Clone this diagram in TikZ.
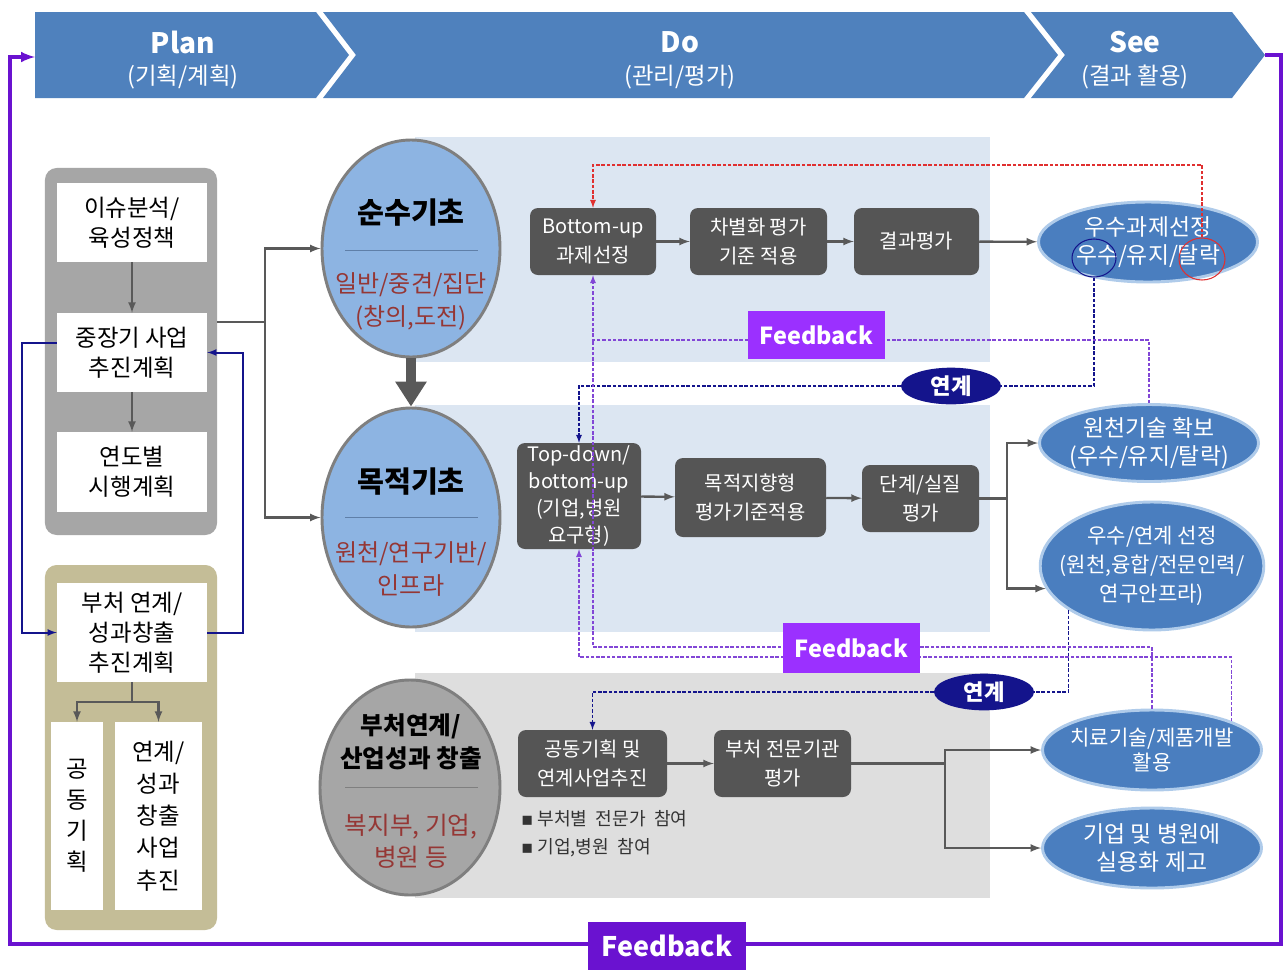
\documentclass[tikz,border=0pt]{standalone}
\usepackage{fontspec}
\setmainfont{Noto Sans CJK KR}
\newfontfamily\symfont{DejaVu Sans}
\usetikzlibrary{shapes.geometric,arrows.meta}
\definecolor{bannerblue}{HTML}{4F81BD}
\definecolor{panelgray}{HTML}{A6A6A6}
\definecolor{paneltan}{HTML}{C4BD97}
\definecolor{lightpanel}{HTML}{DCE6F2}
\definecolor{graypanel}{HTML}{DEDEDE}
\definecolor{boxgray}{HTML}{555555}
\definecolor{linegray}{HTML}{595959}
\definecolor{circleblue}{HTML}{8DB4E2}
\definecolor{blobedge}{HTML}{7F7F7F}
\definecolor{ruleblue}{HTML}{5F7FA8}
\definecolor{ellblue}{HTML}{4A7EBF}
\definecolor{ellglow}{HTML}{AFCBEA}
\definecolor{linknavy}{HTML}{14148C}
\definecolor{textred}{HTML}{953735}
\definecolor{fbviolet}{HTML}{9B30FF}
\definecolor{loopviolet}{HTML}{6A12D0}
\definecolor{dashviolet}{HTML}{8246D6}
\definecolor{dashred}{HTML}{E03030}

\begin{document}
\begin{tikzpicture}[>=latex, x=0.03cm, y=-0.03cm,
    bannertxt/.style={text=white, font=\fontsize{24}{28}\selectfont\bfseries},
    bannersub/.style={text=white, font=\fontsize{20}{24}\selectfont},
    leftbox/.style={fill=white, minimum width=4.5cm, inner sep=1pt, align=center, font=\fontsize{20}{25.5}\selectfont},
    conn/.style={draw=linegray, line width=2pt},
    navyline/.style={draw=linknavy, line width=1.7pt},
    blob/.style={ellipse, draw=blobedge, line width=2.5pt, inner sep=0pt},
    blobtitle/.style={font=\fontsize{25}{28}\selectfont\bfseries},
    blobsub/.style={text=textred, align=center, font=\fontsize{20.5}{27.5}\selectfont},
    blobrule/.style={draw=ruleblue, line width=0.8pt},
    panel/.style={minimum width=17.25cm, inner sep=0pt},
    darkbox/.style={fill=boxgray, rounded corners=0.24cm, text=white, align=center, inner sep=1pt, font=\fontsize{17}{24}\selectfont},
    result/.style={ellipse, fill=ellblue, draw=ellglow, line width=2.5pt, text=white, align=center, inner xsep=-0.4cm, inner ysep=-0.2cm, minimum width=6.57cm, minimum height=2.4cm, font=\fontsize{19.5}{24}\selectfont},
    tie/.style={ellipse, fill=linknavy, text=white, minimum width=3cm, minimum height=1.1cm, inner sep=0pt, font=\fontsize{19}{22}\selectfont\bfseries},
    fb/.style={fill=fbviolet, text=white, minimum width=4.11cm, inner sep=0pt, font=\fontsize{20}{24}\selectfont\bfseries},
    fbdash/.style={draw=dashviolet, line width=1.3pt, dash pattern=on 3pt off 1.5pt},
    navydash/.style={draw=linknavy, line width=1.3pt, dash pattern=on 3pt off 1.5pt},
    reddash/.style={draw=dashred, line width=1.3pt, dash pattern=on 3pt off 1.5pt}]
    \useasboundingbox[fill=white] (0,0) rectangle (1287,972);

    % banner
    \fill[bannerblue] (35,12) -- (316,12) -- (349,55) -- (316,98) -- (35,98) -- cycle;
    \fill[bannerblue] (323,12) -- (1024,12) -- (1058,55) -- (1024,98) -- (323,98) -- (356,55) -- cycle;
    \fill[bannerblue] (1031,12) -- (1232,12) -- (1265,55) -- (1232,98) -- (1031,98) -- (1065,55) -- cycle;
    \node[bannertxt] (plan) at (183,42) {Plan};
    \node[bannersub] (plansub) at (183,77) {(기획/계획)};
    \node[bannertxt] (do) at (680,42) {Do};
    \node[bannersub] (dosub) at (680,77) {(관리/평가)};
    \node[bannertxt] (see) at (1135,42) {See};
    \node[bannersub] (seesub) at (1135,77) {(결과 활용)};
    \coordinate (seetip) at (1265,55);
    \coordinate (plantail) at (35,57);

    % plan column
    \node[fill=panelgray, rounded corners=0.35cm, minimum width=5.16cm, minimum height=11.01cm] (G) at (131,351.5) {};
    \node[leftbox, minimum height=2.37cm] (I1) at (132,222.5) {이슈분석/\\육성정책};
    \node[leftbox, minimum height=2.37cm] (I2) at (132,352.5) {중장기 사업\\추진계획};
    \node[leftbox, minimum height=2.4cm] (I3) at (132,472) {연도별\\시행계획};
    \draw[conn,->] (I1) -- (I2);
    \draw[conn,->] (I2) -- (I3);

    \node[fill=paneltan, rounded corners=0.35cm, minimum width=5.16cm, minimum height=10.95cm] (T) at (131,747.5) {};
    \node[leftbox, minimum height=2.97cm] (B1) at (132,632.5) {부처 연계/\\성과창출\\추진계획};
    \node[leftbox, minimum width=1.53cm, minimum height=5.64cm, font=\fontsize{20}{26.5}\selectfont] (B2) at (77,816) {공\\동\\기\\획};
    \node[leftbox, minimum width=2.61cm, minimum height=5.64cm, font=\fontsize{20}{27.5}\selectfont] (B3) at (158.5,816) {연계/\\성과\\창출\\사업\\추진};
    \coordinate (Bj) at (132,702);
    \draw[conn] (B1) -- (Bj);
    \draw[conn,->] (Bj) -| (B2);
    \draw[conn,->] (Bj) -| (B3);
    \draw[navyline,->] ([yshift=0.3cm]I2.west) -- ++(-35,0) |- (B1.west);
    \draw[navyline,->] (B1.east) -- ++(36,0) |- (I2.east);

    % do panels
    \node[panel, fill=lightpanel, minimum height=6.75cm] (P1) at (702.5,249.5) {};
    \node[panel, fill=lightpanel, minimum height=6.81cm] (P2) at (702.5,518.5) {};
    \node[panel, fill=graypanel, minimum height=6.75cm] (P3) at (702.5,785.5) {};

    % circles
    \node[blob, fill=circleblue, minimum width=5.34cm, minimum height=6.51cm] (S1) at (411,248.5) {};
    \node[blobtitle] (S1t) at (411,213) {순수기초};
    \draw[blobrule] (345,250) -- (478,250);
    \node[blobsub] (S1s) at (411,301.5) {일반/중견/집단\\(창의,도전)};

    \node[blob, fill=circleblue, minimum width=5.34cm, minimum height=6.57cm] (S2) at (411,517.5) {};
    \node[blobtitle] (S2t) at (411,482) {목적기초};
    \draw[blobrule] (345,517) -- (478,517);
    \node[blobsub] (S2s) at (411,569) {원천/연구기반/\\인프라};

    \node[blob, fill=panelgray, minimum width=5.4cm, minimum height=6.45cm] (S3) at (410,787.5) {};
    \node[blobtitle, align=center, font=\fontsize{21}{28}\selectfont\bfseries] (S3t) at (411,741.5) {부처연계/\\산업성과 창출};
    \draw[blobrule, draw=blobedge] (345,787) -- (478,787);
    \node[blobsub, font=\fontsize{21}{27}\selectfont] (S3s) at (411,841) {복지부, 기업,\\병원 등};

    \draw[-{Triangle[length=0.75cm,width=0.9cm]}, line width=0.28cm, draw=linegray] (S1) -- (S2);

    \coordinate (J) at (265,322);
    \draw[conn] (G.east |- J) -- (J);
    \draw[conn,->] (J) |- (S1);
    \draw[conn,->] (J) |- (S2);

    % process boxes
    \node[darkbox, minimum width=3.78cm, minimum height=2.01cm] (D1) at (593,241.5) {Bottom-up\\과제선정};
    \node[darkbox, minimum width=4.11cm, minimum height=2.01cm] (D2) at (758.5,241.5) {차별화 평가\\기준 적용};
    \node[darkbox, minimum width=3.75cm, minimum height=2.01cm] (D3) at (916.5,241.5) {결과평가};
    \node[darkbox, minimum width=3.72cm, minimum height=3.18cm, font=\fontsize{17}{23}\selectfont] (D4) at (579,496) {Top-down/\\bottom-up\\(기업,병원\\요구형)};
    \node[darkbox, minimum width=4.53cm, minimum height=2.37cm] (D5) at (750.5,497.5) {목적지향형\\평가기준적용};
    \node[darkbox, minimum width=3.51cm, minimum height=2.01cm] (D6) at (920.5,498.5) {단계/실질\\평가};
    \node[darkbox, minimum width=4.47cm, minimum height=2.01cm] (D7) at (592.5,763.5) {공동기획 및\\연계사업추진};
    \node[darkbox, minimum width=4.11cm, minimum height=2.01cm] (D8) at (782.5,763.5) {부처 전문기관\\평가};
    \node[anchor=west, align=left, text=black!80, font=\fontsize{15.5}{24}\selectfont] (notes) at (517,834) {{\symfont ▪} 부처별\ \ 전문가\ \ 참여\\{\symfont ▪} 기업,병원\ \ 참여};
    \draw[conn,->] (D1) -- (D2);
    \draw[conn,->] (D2) -- (D3);
    \draw[conn,->] (D4) -- (D5);
    \draw[conn,->] (D5) -- (D6);
    \draw[conn,->] (D7) -- (D8);

    % results
    \node[result, minimum height=2.4cm] (E1) at (1148,242) {우수과제선정\\우수/유지/탈락};
    \node[result, minimum height=2.31cm] (E2) at (1149,443) {원천기술 확보\\(우수/유지/탈락)};
    \node[result, minimum width=6.45cm, minimum height=3.84cm, font=\fontsize{18}{25}\selectfont] (E3) at (1152,566) {우수/연계 선정\\(원천,융합/전문인력/\\연구안프라)};
    \node[result, font=\fontsize{18}{22}\selectfont] (E4) at (1152,750) {치료기술/제품개발\\활용};
    \node[result] (E5) at (1152,848) {기업 및 병원에\\실용화 제고};
    \node[ellipse, draw=linknavy, line width=0.9pt, minimum width=1.32cm, minimum height=1.14cm] (keep) at (1094,258) {};
    \node[ellipse, draw=dashred, line width=0.9pt, minimum width=1.38cm, minimum height=1.26cm] (drop) at (1202,259) {};

    \draw[conn,->] (D3) -- (E1);
    \coordinate (K2) at (1007,498.5);
    \draw[conn] (D6) -- (K2);
    \draw[conn,->] (K2) |- (E2);
    \draw[conn,->] (K2) |- (E3.192);
    \coordinate (K3) at (945,763.5);
    \draw[conn] (D8) -- (K3);
    \draw[conn,->] (K3) |- (E4);
    \draw[conn,->] (K3) |- (E5);

    % links and feedback
    \node[tie] (L1) at (951,386) {연계};
    \node[tie] (L2) at (984,692) {연계};
    \coordinate (R) at (1202,165);
    \draw[reddash,->] (drop.north) -- (R) -| (D1.north);
    \draw[navydash] (keep.south) |- (L1.east);
    \draw[navydash,->] (L1.west) -| (D4.north);
    \draw[navydash] (E3.208) |- (L2.east);
    \draw[navydash,->] (L2.west) -| (D7.north);
    \coordinate (Q1) at (593,340);
    \coordinate (Q2) at (593,647);
    \coordinate (Q3) at (579,657);
    \draw[fbdash,->] (E2.north) |- (Q1) -- (D1.south);
    \draw[fbdash] (E4.north) |- (Q2) -- (Q1);
    \draw[fbdash,->] (E4.20) |- (Q3) -- (D4.south);
    \node[fb, minimum height=1.44cm] (F1) at (816.5,335) {Feedback};
    \node[fb, minimum height=1.5cm] (F2) at (851.5,648) {Feedback};

    % outer loop
    \coordinate (LR) at (1281,944);
    \coordinate (LL) at (10,944);
    \draw[draw=loopviolet, line width=3pt, ->] (seetip) -| (LR) -- (LL) |- (plantail);
    \node[fb, fill=loopviolet, minimum width=4.74cm, minimum height=1.44cm, font=\fontsize{23}{26}\selectfont\bfseries] (F3) at (667,946) {Feedback};
\end{tikzpicture}
\end{document}
